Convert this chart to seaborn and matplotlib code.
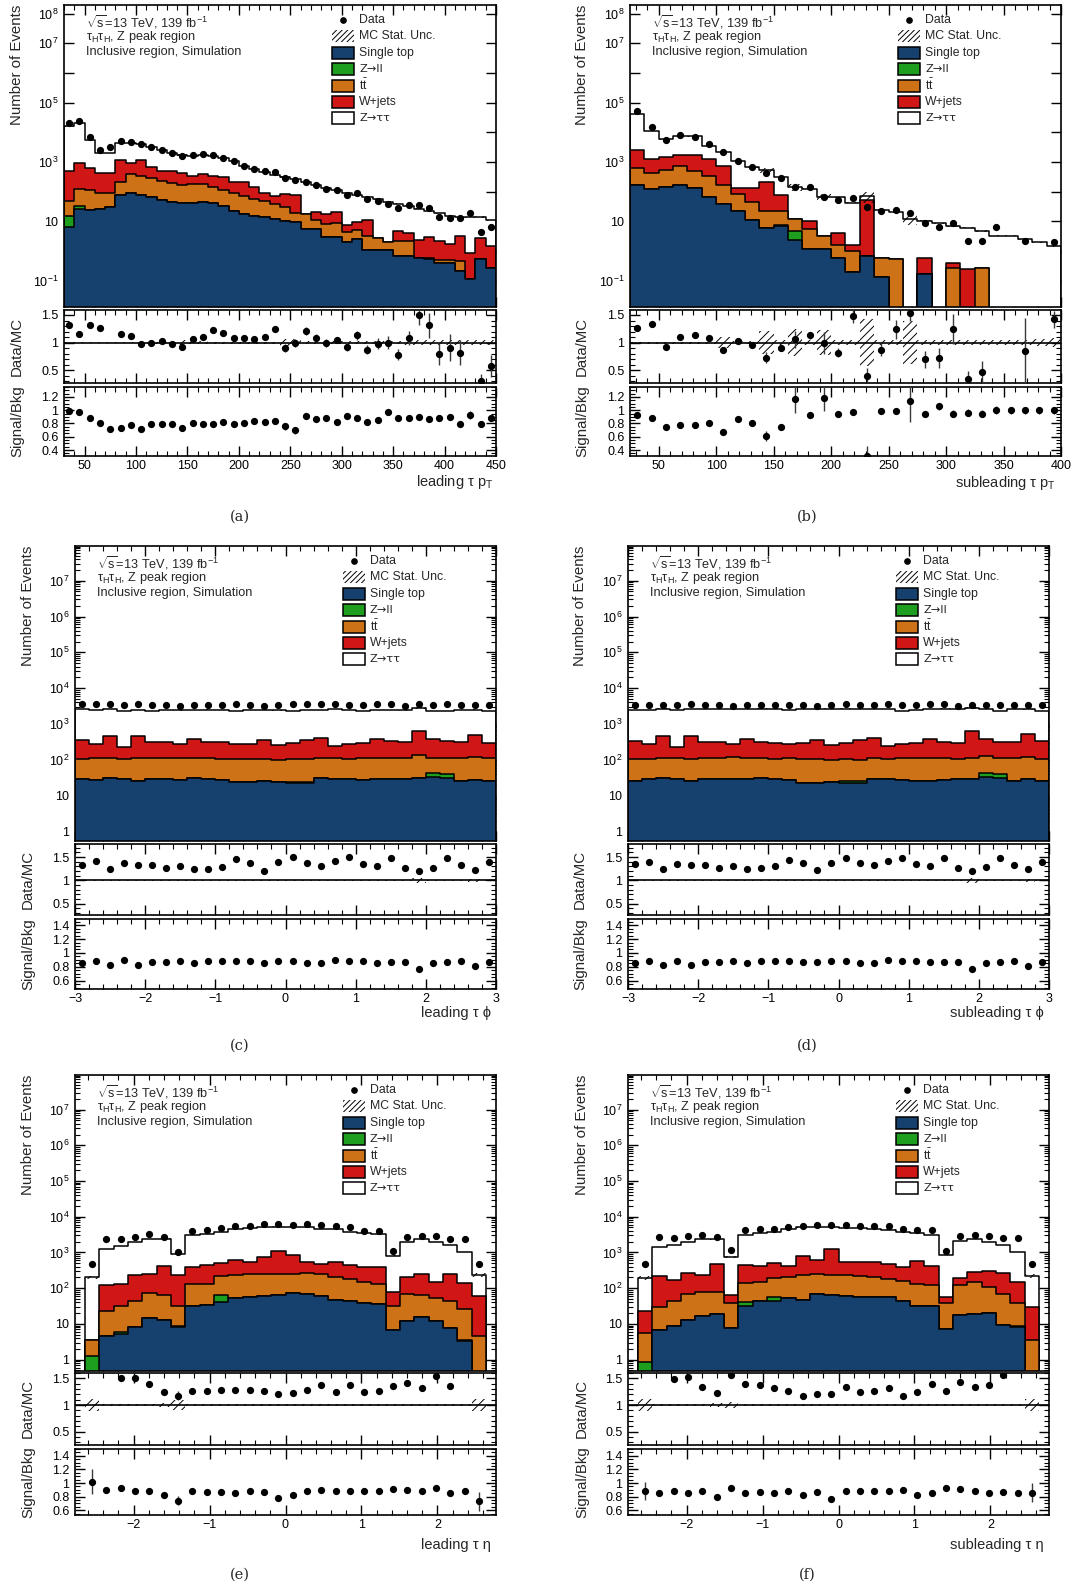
import numpy as np
import pandas as pd
import matplotlib
matplotlib.use("Agg")
import matplotlib.pyplot as plt
import seaborn as sns
from matplotlib.ticker import FuncFormatter, MultipleLocator, LogLocator, NullLocator, FixedLocator
from matplotlib.patches import Rectangle
from matplotlib.lines import Line2D

nan = np.nan

# ---------------- DATA (stack boundaries given as powers of ten) ----------------
# (a) leading tau pT
a_edges = np.linspace(30, 450, 43)
a_total = [4.20, 4.31, 3.73, 3.31, 3.31, 3.65, 3.65, 3.60, 3.50, 3.41, 3.31, 3.24, 3.20, 3.22, 3.20, 3.12, 3.03, 2.88, 2.77, 2.66,
           2.57, 2.50, 2.42, 2.31, 2.22, 2.14, 2.06, 1.97, 1.90, 1.82, 1.74, 1.66, 1.59, 1.51, 1.42, 1.35, 1.27, 1.19, 1.14, 1.13, 1.15, 1.03]
a_data = [4.31, 4.38, 3.84, 3.41, 3.52, 3.70, 3.69, 3.60, 3.49, 3.40, 3.29, 3.20, 3.22, 3.26, 3.24, 3.14, 3.02, 2.87, 2.76, 2.69,
          2.66, 2.46, 2.41, 2.33, 2.24, 2.09, 2.07, 1.88, 1.95, 1.74, 1.69, 1.59, 1.45, 1.54, 1.56, 1.44, 1.16, 1.11, 1.12, 1.28, 0.64, 0.80]
a_wjets = [2.69, 2.96, 2.79, 2.62, 2.62, 3.07, 2.97, 3.07, 2.83, 2.71, 2.71, 2.63, 2.54, 2.60, 2.54, 2.49, 2.34, 2.32, 2.15, 1.95,
           1.87, 1.92, 1.90, 1.25, 1.33, 1.25, 1.30, 0.89, 0.97, 1.05, 0.45, 0.32, 0.66, 0.62, 0.37, 0.46, 0.33, 0.24, 0.50, -0.06, 0.44, 0.16]
a_ttbar = [1.70, 2.09, 2.06, 1.96, 1.96, 2.32, 2.58, 2.54, 2.46, 2.37, 2.28, 2.22, 2.25, 2.25, 2.17, 2.07, 1.97, 1.87, 1.74, 1.68,
           1.59, 1.47, 1.27, 1.25, 1.05, 0.91, 0.93, 0.65, 0.71, 0.52, 0.45, 0.32, 0.33, 0.33, -0.24, -0.24, -0.31, -0.31, -0.33, -0.93, -0.27, -0.56]
a_single_top = [0.82, 1.42, 1.39, 1.42, 1.50, 1.89, 1.95, 1.89, 1.81, 1.73, 1.66, 1.63, 1.63, 1.66, 1.61, 1.51, 1.36, 1.25, 1.19, 1.14,
                1.08, 1.02, 0.97, 0.74, 0.74, 0.46, 0.46, 0.29, 0.40, 0.03, 0.03, 0.03, -0.16, -0.16, -0.24, -0.27, -0.39, -0.39, -0.67, -0.93, -0.27, -0.56]
a_zll = {0: 1.19, 1: 1.53}
a_ratio = [1.32, 1.16, 1.32, 1.27, nan, 1.16, 1.12, 0.97, 1.00, 1.03, 0.98, 0.92, 1.07, 1.11, 1.22, 1.18, 1.09, 1.08, 1.07, 1.11,
           1.24, 0.90, 0.99, 1.21, 1.09, 1.00, 1.05, 0.93, 1.13, 0.87, 0.98, 1.00, 0.78, 1.08, 1.50, 1.31, 0.80, 0.91, 0.82, nan, 0.31, 0.57]
a_ratio_err = [0.02, 0.02, 0.02, 0.02, 0.0, 0.02, 0.02, 0.03, 0.02, 0.02, 0.02, 0.04, 0.03, 0.03, 0.03, 0.03, 0.03, 0.03, 0.03, 0.03,
               0.04, 0.07, 0.07, 0.08, 0.06, 0.07, 0.06, 0.08, 0.08, 0.08, 0.10, 0.12, 0.10, 0.13, 0.18, 0.22, 0.20, 0.25, 0.22, 0.0, 0.12, 0.20]
a_mcunc = [0.01, 0.01, 0.01, 0.01, 0.01, 0.01, 0.01, 0.03, 0.02, 0.02, 0.02, 0.05, 0.02, 0.03, 0.02, 0.02, 0.02, 0.02, 0.02, 0.02,
           0.02, 0.07, 0.07, 0.03, 0.03, 0.03, 0.03, 0.03, 0.03, 0.03, 0.03, 0.03, 0.03, 0.04, 0.04, 0.04, 0.04, 0.04, 0.04, 0.05, 0.05, 0.05]
a_sb = [0.985, 0.97, 0.89, 0.805, 0.715, 0.725, 0.775, 0.715, 0.785, 0.79, 0.79, 0.725, 0.805, 0.785, 0.79, 0.815, 0.785, 0.80, 0.845, 0.815,
        0.845, 0.755, 0.695, 0.91, 0.865, 0.885, 0.825, 0.91, 0.885, 0.825, 0.85, 0.97, 0.88, 0.88, 0.90, 0.87, 0.885, 0.895, 0.785, 0.935, 0.795, 0.885]
a_sb_err = [0.015, 0.015, 0.015, 0.015, 0.015, 0.015, 0.015, 0.015, 0.015, 0.015, 0.015, 0.035, 0.015, 0.015, 0.015, 0.015, 0.015, 0.015, 0.015, 0.015,
            0.02, 0.05, 0.05, 0.03, 0.03, 0.025, 0.025, 0.025, 0.03, 0.025, 0.04, 0.035, 0.03, 0.03, 0.035, 0.04, 0.04, 0.04, 0.04, 0.06, 0.04, 0.05]

# (b) subleading tau pT
b_edges = np.linspace(25, 400, 31)
b_total = [4.61, 4.04, 3.76, 3.86, 3.86, 3.54, 3.34, 3.02, 2.82, 2.72, 2.49, 2.15, 2.10, 1.83, 1.81, 1.63, 1.85, 1.37, 1.31, 1.08,
           1.02, 0.93, 0.83, 0.79, 0.68, 0.52, 0.52, 0.40, 0.29, 0.18]
b_data = [4.71, 4.18, 3.75, 3.92, 3.84, 3.59, 3.32, 3.05, 2.83, 2.62, 2.45, 2.17, 2.17, 1.83, 1.73, 1.79, 1.50, 1.34, 1.38, 1.28,
          0.93, 0.80, 0.93, 0.35, 0.35, 0.80, nan, 0.35, nan, 0.32]
b_wjets = [3.42, 3.11, 3.16, 3.22, 3.22, 3.11, 2.86, 2.13, 2.13, 2.34, 1.90, 1.08, 1.00, 0.52, 0.61, 0.20, 1.72, -0.22, -0.27, nan,
           -0.22, nan, -0.41, -0.61, -0.58, nan, nan, nan, nan, nan]
b_ttbar = [2.79, 2.64, 2.74, 2.85, 2.71, 2.54, 2.21, 1.92, 1.64, 1.34, 1.34, 1.08, 0.74, 0.52, 0.21, 0.01, -0.16, -0.22, -0.27, nan,
           -0.78, nan, -0.58, nan, -0.58, nan, nan, nan, nan, nan]
b_single_top = [2.21, 2.09, 2.15, 2.21, 2.13, 1.83, 1.59, 1.34, 1.05, 0.76, 0.83, 0.38, 0.07, 0.07, -0.22, -0.72, -0.16, -0.89, nan, nan,
                -0.78, nan, nan, nan, nan, nan, nan, nan, nan, nan]
b_zll = {10: 0.88, 11: 0.68}
b_ratio = [1.27, 1.34, 0.93, 1.11, 1.13, 1.09, 0.86, 1.03, 0.95, 0.73, 0.91, 1.06, 1.13, 0.99, 0.82, 1.48, 0.40, 0.87, 1.24, 1.54,
           0.70, 0.72, 1.24, 0.34, 0.46, nan, nan, 0.85, nan, 1.42]
b_ratio_err = [0.02, 0.02, 0.03, 0.02, 0.02, 0.03, 0.04, 0.03, 0.04, 0.10, 0.06, 0.15, 0.07, 0.20, 0.08, 0.12, 0.15, 0.12, 0.17, 0.15,
               0.15, 0.18, 0.27, 0.15, 0.20, 0.0, 0.0, 0.60, 0.0, 0.15]
b_mcunc = [0.02, 0.02, 0.02, 0.02, 0.02, 0.02, 0.10, 0.03, 0.03, 0.21, 0.04, 0.25, 0.04, 0.22, 0.04, 0.04, 0.42, 0.05, 0.05, 0.39,
           0.05, 0.05, 0.05, 0.05, 0.05, 0.05, 0.05, 0.05, 0.06, 0.08]
b_sb = [0.935, 0.885, 0.745, 0.775, 0.77, 0.80, 0.675, 0.87, 0.80, 0.61, 0.745, 1.175, 0.925, 1.185, 0.945, 0.97, 0.31, 0.985, 0.985, 1.145,
        0.95, 1.06, 0.95, 0.965, 0.95, 1.0, 1.0, 1.0, 1.0, 1.0]
b_sb_err = [0.02, 0.02, 0.02, 0.02, 0.02, 0.02, 0.04, 0.02, 0.02, 0.07, 0.04, 0.22, 0.03, 0.20, 0.02, 0.02, 0.15, 0.02, 0.02, 0.33,
            0.03, 0.05, 0.05, 0.05, 0.05, 0.06, 0.05, 0.05, 0.05, 0.05]

# (c) leading tau phi
c_edges = np.linspace(-3, 3, 31)
c_total = [3.41, 3.39, 3.42, 3.37, 3.39, 3.37, 3.39, 3.38, 3.39, 3.40, 3.39, 3.37, 3.39, 3.39, 3.38, 3.37, 3.39, 3.39, 3.41, 3.39,
           3.37, 3.39, 3.39, 3.38, 3.44, 3.37, 3.37, 3.39, 3.40, 3.37]
c_data = [3.55, 3.55, 3.55, 3.52, 3.55, 3.52, 3.52, 3.50, 3.53, 3.53, 3.52, 3.55, 3.53, 3.50, 3.53, 3.56, 3.55, 3.55, 3.55, 3.53,
          3.52, 3.55, 3.55, 3.50, 3.55, 3.52, 3.55, 3.53, 3.52, 3.52]
c_wjets = [2.55, 2.44, 2.65, 2.37, 2.67, 2.51, 2.51, 2.44, 2.58, 2.51, 2.49, 2.44, 2.44, 2.55, 2.41, 2.46, 2.55, 2.60, 2.39, 2.43,
           2.48, 2.58, 2.53, 2.49, 2.81, 2.57, 2.53, 2.51, 2.69, 2.48]
c_ttbar = [2.03, 2.04, 2.05, 2.03, 2.06, 2.05, 2.04, 2.05, 2.06, 2.04, 2.03, 2.03, 2.01, 2.03, 2.00, 2.03, 2.03, 2.06, 2.04, 2.03,
           2.05, 2.06, 2.04, 2.04, 2.12, 2.04, 2.05, 2.05, 2.09, 2.05]
c_single_top = [1.46, 1.44, 1.48, 1.47, 1.42, 1.47, 1.46, 1.44, 1.48, 1.46, 1.44, 1.37, 1.39, 1.41, 1.39, 1.34, 1.34, 1.48, 1.47, 1.46,
                1.43, 1.45, 1.46, 1.47, 1.48, 1.51, 1.48, 1.42, 1.44, 1.42]
c_zll = {15: 1.39, 16: 1.39, 25: 1.64, 26: 1.60}
c_ratio = [1.34, 1.41, 1.24, 1.37, 1.34, 1.34, 1.26, 1.31, 1.25, 1.25, 1.29, 1.45, 1.37, 1.21, 1.39, 1.50, 1.37, 1.31, 1.41, 1.50,
           1.36, 1.31, 1.48, 1.26, 1.21, 1.27, 1.48, 1.33, 1.23, 1.40]
c_ratio_err = [0.025, 0.025, 0.03, 0.025, 0.025, 0.025, 0.025, 0.025, 0.025, 0.025, 0.025, 0.025, 0.025, 0.025, 0.025, 0.025, 0.025, 0.025, 0.025, 0.025,
               0.025, 0.025, 0.025, 0.025, 0.05, 0.025, 0.025, 0.025, 0.035, 0.025]
c_mcunc = [0.01, 0.01, 0.01, 0.01, 0.01, 0.01, 0.01, 0.01, 0.01, 0.01, 0.01, 0.01, 0.01, 0.01, 0.01, 0.01, 0.01, 0.01, 0.01, 0.01,
           0.01, 0.01, 0.01, 0.01, 0.06, 0.01, 0.01, 0.01, 0.03, 0.01]
c_sb = [0.86, 0.885, 0.83, 0.90, 0.82, 0.87, 0.87, 0.88, 0.85, 0.88, 0.88, 0.88, 0.88, 0.86, 0.89, 0.88, 0.86, 0.85, 0.90, 0.88,
        0.88, 0.86, 0.87, 0.875, 0.77, 0.85, 0.87, 0.88, 0.81, 0.875]
c_sb_err = [0.015, 0.015, 0.02, 0.015, 0.015, 0.015, 0.015, 0.015, 0.015, 0.015, 0.015, 0.015, 0.015, 0.015, 0.015, 0.015, 0.015, 0.015, 0.015, 0.015,
            0.015, 0.015, 0.015, 0.015, 0.03, 0.015, 0.015, 0.015, 0.025, 0.015]

# (d) subleading tau phi
d_edges = np.linspace(-3, 3, 31)
d_total = [3.39, 3.39, 3.43, 3.39, 3.41, 3.41, 3.41, 3.41, 3.41, 3.43, 3.41, 3.39, 3.41, 3.41, 3.43, 3.43, 3.41, 3.41, 3.41, 3.37,
           3.39, 3.41, 3.43, 3.41, 3.44, 3.41, 3.37, 3.41, 3.41, 3.37]
d_data = [3.54, 3.54, 3.54, 3.52, 3.55, 3.52, 3.52, 3.50, 3.53, 3.53, 3.52, 3.54, 3.53, 3.50, 3.53, 3.55, 3.54, 3.54, 3.55, 3.52,
          3.52, 3.55, 3.56, 3.50, 3.54, 3.52, 3.54, 3.54, 3.52, 3.52]
d_wjets = [2.53, 2.44, 2.65, 2.37, 2.67, 2.51, 2.51, 2.44, 2.58, 2.51, 2.48, 2.44, 2.46, 2.55, 2.41, 2.46, 2.55, 2.62, 2.39, 2.43,
           2.46, 2.58, 2.51, 2.48, 2.81, 2.57, 2.51, 2.49, 2.71, 2.53]
d_ttbar = [2.02, 2.02, 2.05, 2.04, 2.02, 2.05, 2.06, 2.07, 2.06, 2.04, 2.03, 2.04, 2.03, 2.01, 2.00, 2.02, 2.00, 2.04, 2.03, 2.05,
           2.06, 2.06, 2.04, 2.03, 2.04, 2.11, 2.05, 2.04, 2.07, 2.03]
d_single_top = [1.42, 1.46, 1.48, 1.47, 1.42, 1.47, 1.46, 1.47, 1.47, 1.48, 1.46, 1.43, 1.36, 1.36, 1.38, 1.35, 1.35, 1.47, 1.45, 1.44,
                1.41, 1.42, 1.44, 1.46, 1.47, 1.53, 1.49, 1.42, 1.45, 1.42]
d_zll = {15: 1.41, 16: 1.41, 25: 1.64, 26: 1.60}
d_ratio = [1.35, 1.40, 1.24, 1.36, 1.34, 1.33, 1.27, 1.31, 1.25, 1.26, 1.30, 1.44, 1.37, 1.22, 1.38, 1.49, 1.37, 1.32, 1.41, 1.49,
           1.36, 1.31, 1.47, 1.27, 1.21, 1.28, 1.47, 1.33, 1.24, 1.40]
d_ratio_err = [0.025, 0.025, 0.03, 0.025, 0.025, 0.025, 0.025, 0.025, 0.025, 0.025, 0.025, 0.025, 0.025, 0.025, 0.025, 0.025, 0.025, 0.025, 0.025, 0.025,
               0.025, 0.025, 0.025, 0.025, 0.05, 0.025, 0.025, 0.025, 0.035, 0.025]
d_mcunc = [0.01, 0.01, 0.01, 0.01, 0.01, 0.01, 0.01, 0.01, 0.01, 0.01, 0.01, 0.01, 0.01, 0.01, 0.01, 0.01, 0.01, 0.01, 0.01, 0.01,
           0.01, 0.01, 0.01, 0.01, 0.06, 0.01, 0.01, 0.01, 0.03, 0.01]
d_sb = [0.86, 0.88, 0.83, 0.89, 0.82, 0.87, 0.87, 0.88, 0.86, 0.88, 0.88, 0.88, 0.87, 0.87, 0.89, 0.88, 0.86, 0.85, 0.90, 0.88,
        0.88, 0.87, 0.87, 0.87, 0.77, 0.85, 0.87, 0.88, 0.81, 0.87]
d_sb_err = [0.015, 0.015, 0.02, 0.015, 0.015, 0.015, 0.015, 0.015, 0.015, 0.015, 0.015, 0.015, 0.015, 0.015, 0.015, 0.015, 0.015, 0.015, 0.015, 0.015,
            0.015, 0.015, 0.015, 0.015, 0.03, 0.015, 0.015, 0.015, 0.025, 0.015]

# (e) leading tau eta
e_edges = np.linspace(-2.64, 2.64, 29)
e_total = [2.30, 3.09, 3.18, 3.29, 3.38, 3.38, 2.95, 3.49, 3.52, 3.58, 3.65, 3.68, 3.70, 3.72, 3.71, 3.70, 3.66, 3.66, 3.57, 3.54,
           3.51, 2.91, 3.30, 3.37, 3.29, 3.21, 3.02, 2.37]
e_data = [2.68, 3.38, 3.37, 3.44, 3.51, 3.44, 3.02, 3.60, 3.63, 3.68, 3.73, 3.75, 3.79, 3.79, 3.77, 3.79, 3.77, 3.73, 3.71, 3.61,
          3.61, 3.05, 3.43, 3.47, 3.45, 3.37, 3.38, 2.68]
e_wjets = [0.55, 2.09, 2.13, 2.36, 2.40, 2.61, 2.37, 2.58, 2.65, 2.70, 2.79, 2.74, 2.86, 3.05, 2.93, 2.74, 2.67, 2.73, 2.65, 2.60,
           2.58, 1.89, 2.32, 2.40, 2.18, 2.40, 2.14, 1.79]
e_ttbar = [0.55, 1.35, 1.51, 1.65, 1.86, 1.81, 1.51, 2.11, 2.13, 2.34, 2.37, 2.39, 2.41, 2.40, 2.39, 2.42, 2.40, 2.32, 2.26, 2.18,
           2.11, 1.49, 1.83, 1.81, 1.72, 1.63, 1.42, 0.65]
e_single_top = [nan, 0.66, 0.71, 0.90, 1.16, 1.11, 0.90, 1.51, 1.53, 1.61, 1.72, 1.75, 1.78, 1.81, 1.86, 1.83, 1.79, 1.67, 1.63, 1.58,
                1.55, 0.83, 1.08, 1.18, 1.09, 0.88, 0.51, nan]
e_zll = {0: 0.10, 2: 0.77, 6: 0.95, 9: 1.81, 26: 0.55}
e_ratio = [nan, nan, 1.50, 1.50, 1.39, 1.25, 1.175, 1.26, 1.27, 1.29, 1.29, 1.29, 1.27, 1.20, 1.23, 1.29, 1.37, 1.24, 1.38, 1.24,
           1.26, 1.36, 1.41, 1.31, 1.55, 1.36, nan, nan]
e_ratio_err = [0.0, 0.0, 0.04, 0.04, 0.03, 0.05, 0.08, 0.02, 0.02, 0.02, 0.02, 0.02, 0.02, 0.03, 0.02, 0.02, 0.02, 0.02, 0.02, 0.02,
               0.02, 0.05, 0.04, 0.03, 0.04, 0.04, 0.0, 0.0]
e_mcunc = [0.12, 0.01, 0.01, 0.01, 0.01, 0.03, 0.10, 0.01, 0.01, 0.01, 0.01, 0.01, 0.01, 0.02, 0.01, 0.01, 0.01, 0.01, 0.01, 0.01,
           0.01, 0.02, 0.01, 0.01, 0.01, 0.01, 0.01, 0.12]
e_sb = [1.02, 0.90, 0.92, 0.88, 0.89, 0.82, 0.74, 0.88, 0.87, 0.87, 0.86, 0.88, 0.87, 0.78, 0.83, 0.89, 0.90, 0.88, 0.88, 0.88,
        0.89, 0.91, 0.90, 0.89, 0.92, 0.85, 0.88, 0.73]
e_sb_err = [0.18, 0.04, 0.03, 0.02, 0.02, 0.04, 0.07, 0.02, 0.02, 0.02, 0.02, 0.02, 0.02, 0.03, 0.02, 0.02, 0.02, 0.02, 0.02, 0.02,
            0.02, 0.04, 0.02, 0.02, 0.03, 0.03, 0.04, 0.14]

# (f) subleading tau eta
f_edges = np.linspace(-2.64, 2.64, 29)
f_total = [2.28, 3.15, 3.21, 3.29, 3.37, 3.37, 2.88, 3.49, 3.54, 3.58, 3.66, 3.70, 3.72, 3.71, 3.68, 3.68, 3.66, 3.64, 3.58, 3.54,
           3.49, 2.93, 3.32, 3.38, 3.30, 3.21, 3.02, 2.35]
f_data = [2.67, 3.42, 3.40, 3.47, 3.48, 3.44, 3.08, 3.64, 3.65, 3.67, 3.71, 3.74, 3.77, 3.78, 3.76, 3.75, 3.75, 3.74, 3.66, 3.64,
          3.63, 3.04, 3.47, 3.50, 3.45, 3.40, 3.40, 2.68]
f_wjets = [1.35, 2.34, 2.23, 2.42, 2.37, 2.67, 1.81, 2.65, 2.63, 2.70, 2.63, 2.90, 2.80, 3.09, 2.72, 2.73, 2.73, 2.69, 2.60, 2.76,
           2.63, 1.76, 2.28, 2.45, 2.49, 2.42, 2.18, 1.46]
f_ttbar = [0.74, 1.46, 1.64, 1.83, 1.88, 1.89, 1.58, 2.15, 2.18, 2.28, 2.32, 2.37, 2.39, 2.37, 2.37, 2.35, 2.32, 2.26, 2.20, 2.11,
           2.09, 1.58, 2.09, 2.17, 2.03, 1.83, 1.58, 0.55]
f_single_top = [nan, 0.83, 0.93, 1.11, 1.21, 1.27, 0.88, 1.49, 1.63, 1.65, 1.72, 1.67, 1.83, 1.81, 1.79, 1.74, 1.75, 1.74, 1.64, 1.51,
                1.49, 0.85, 1.25, 1.27, 1.30, 0.97, 0.90, nan]
f_zll = {0: -0.08, 7: 1.60, 9: 1.76, 26: 0.95}
f_ratio = [nan, nan, 1.48, 1.53, 1.33, 1.22, 1.56, 1.39, 1.37, 1.31, 1.26, 1.16, 1.21, 1.21, 1.33, 1.24, 1.27, 1.31, 1.17, 1.24,
           1.39, 1.26, 1.44, 1.34, 1.38, 1.56, nan, nan]
f_ratio_err = [0.0, 0.0, 0.04, 0.04, 0.03, 0.05, 0.05, 0.02, 0.02, 0.02, 0.02, 0.02, 0.02, 0.03, 0.02, 0.02, 0.02, 0.02, 0.02, 0.02,
               0.02, 0.05, 0.02, 0.02, 0.03, 0.03, 0.0, 0.0]
f_mcunc = [0.12, 0.01, 0.01, 0.01, 0.01, 0.03, 0.05, 0.01, 0.01, 0.01, 0.01, 0.01, 0.01, 0.02, 0.01, 0.01, 0.01, 0.01, 0.01, 0.01,
           0.01, 0.01, 0.01, 0.01, 0.01, 0.01, 0.01, 0.12]
f_sb = [0.88, 0.85, 0.89, 0.86, 0.89, 0.80, 0.92, 0.85, 0.87, 0.86, 0.89, 0.83, 0.87, 0.77, 0.88, 0.88, 0.88, 0.89, 0.90, 0.83,
        0.86, 0.93, 0.91, 0.88, 0.85, 0.87, 0.86, 0.86]
f_sb_err = [0.13, 0.03, 0.03, 0.02, 0.02, 0.04, 0.04, 0.02, 0.02, 0.02, 0.02, 0.02, 0.02, 0.03, 0.02, 0.02, 0.02, 0.02, 0.02, 0.02,
            0.02, 0.04, 0.02, 0.02, 0.02, 0.03, 0.04, 0.14]

x_titles = {'a': r'leading τ $\mathrm{p_{T}}$', 'b': r'subleading τ $\mathrm{p_{T}}$',
            'c': 'leading τ ϕ', 'd': 'subleading τ ϕ', 'e': 'leading τ η', 'f': 'subleading τ η'}
legend_labels = ['Data', 'MC Stat. Unc.', 'Single top', 'Z→ll', r'$\mathrm{t\bar{t}}$', 'W+jets', 'Z→ττ']
info_lines = [r'$\sqrt{\mathrm{s}}$=13 TeV, 139 fb$^{-1}$', r'$\mathrm{\tau_{H}\tau_{H}}$, Z peak region',
              'Inclusive region, Simulation']

# ---------------- STYLE ----------------
sns.set_style("ticks")
plt.rcParams.update({
    'axes.edgecolor': 'black', 'axes.linewidth': 1.2,
    'xtick.color': 'black', 'ytick.color': 'black',
    'hatch.linewidth': 0.7,
    'mathtext.fontset': 'custom', 'mathtext.rm': 'Liberation Sans',
    'mathtext.it': 'Liberation Sans:italic', 'mathtext.bf': 'Liberation Sans:bold',
    'mathtext.sf': 'Liberation Sans', 'mathtext.default': 'regular',
})
plt.rcParams['font.family'] = ['Liberation Sans', 'DejaVu Sans']

BLUE, GREEN, ORANGE, RED = '#16406e', '#1e9e1e', '#ce7217', '#d11616'
W, H = 1078, 1589

layout = {
    'a': dict(x0=64, x1=496, main=(5, 307), ratio=(310, 383), sb=(387, 456), ylx=17, xlab=(493, 482), cap=(240, 517)),
    'b': dict(x0=630, x1=1061, main=(5, 307), ratio=(310, 383), sb=(387, 456), ylx=582, xlab=(1056, 483), cap=(807, 517)),
    'c': dict(x0=75, x1=496, main=(546, 841), ratio=(844, 915), sb=(919, 989), ylx=28, xlab=(491, 1013), cap=(240, 1046)),
    'd': dict(x0=628, x1=1049, main=(546, 841), ratio=(844, 915), sb=(919, 989), ylx=580, xlab=(1044, 1013), cap=(807, 1046)),
    'e': dict(x0=75, x1=496, main=(1075, 1371), ratio=(1373, 1445), sb=(1449, 1515), ylx=28, xlab=(491, 1545), cap=(240, 1575)),
    'f': dict(x0=628, x1=1049, main=(1075, 1371), ratio=(1373, 1445), sb=(1449, 1515), ylx=582, xlab=(1044, 1545), cap=(807, 1575)),
}
pt_axes = dict(xlim=None, xmaj=50, xmin=10, shown={-1, 1, 3, 5, 7, 8}, yminor=False,
               rlim=(0.27, 1.59), slim=(0.31, 1.35), smaj=[0.4, 0.6, 0.8, 1.0, 1.2])
phi_axes = dict(xlim=(-3, 3), xmaj=1, xmin=0.2, shown=set(range(0, 8)), yminor=True, ylim=(0.54, 9.3e7),
                rlim=(0.26, 1.78), slim=(0.48, 1.49), smaj=[0.6, 0.8, 1.0, 1.2, 1.4])
eta_axes = dict(xlim=(-2.77, 2.77), xmaj=1, xmin=0.2, shown=set(range(0, 8)), yminor=True, ylim=(0.48, 9.3e7),
                rlim=(0.25, 1.6), slim=(0.53, 1.5), smaj=[0.6, 0.8, 1.0, 1.2, 1.4])
axcfg = {
    'a': dict(pt_axes, xlim=(30, 450), ylim=(0.013, 1.95e8)),
    'b': dict(pt_axes, xlim=(25, 400), ylim=(0.013, 1.95e8)),
    'c': phi_axes, 'd': phi_axes, 'e': eta_axes, 'f': eta_axes,
}

G = globals()
panels = {}
for p in 'abcdef':
    panels[p] = {k: G[p + '_' + k] for k in ['edges', 'total', 'data', 'wjets', 'ttbar', 'single_top', 'zll',
                                             'ratio', 'ratio_err', 'mcunc', 'sb', 'sb_err']}


def pw(arr):
    return np.nan_to_num(10.0 ** np.asarray(arr, dtype=float), nan=0.0)


def g_fmt(v, pos):
    return ('%g' % round(v, 6)).replace('-', '\u2212')


def log_fmt(shown):
    def f(v, pos):
        if v <= 0:
            return ''
        e = int(np.round(np.log10(v)))
        if not np.isclose(v, 10.0 ** e) or e not in shown:
            return ''
        if e == 0:
            return '1'
        if e == 1:
            return '10'
        return r'$10^{%d}$' % e
    return FuncFormatter(f)


fig = plt.figure(figsize=(W / 100, H / 100), dpi=100)


def fx(x):
    return x / W


def fy(y):
    return 1 - y / H


for p in 'abcdef':
    L, C, P = layout[p], axcfg[p], panels[p]

    def rect(y0, y1):
        return [fx(L['x0']), fy(y1), (L['x1'] - L['x0']) / W, (y1 - y0) / H]

    axm = fig.add_axes(rect(*L['main']))
    axr = fig.add_axes(rect(*L['ratio']))
    axs = fig.add_axes(rect(*L['sb']))

    edges = np.asarray(P['edges'], float)
    centers = 0.5 * (edges[:-1] + edges[1:])
    widths = np.diff(edges)
    tot = pw(P['total'])
    wj = pw(P['wjets'])
    tt = pw(P['ttbar'])
    st = pw(P['single_top'])
    zl = st.copy()
    for k, v in P['zll'].items():
        zl[k] = 10.0 ** v

    # stacked histogram: draw cumulative levels from top to bottom
    for vals, col in [(tot, 'white'), (wj, RED), (tt, ORANGE), (zl, GREEN), (st, BLUE)]:
        df = pd.DataFrame({'x': centers, 'w': vals})
        sns.histplot(data=df, x='x', weights='w', bins=[float(e) for e in edges], element='step', fill=True,
                     color=col, alpha=1.0, edgecolor='black', linewidth=1.1, ax=axm, legend=False)
    u = np.asarray(P['mcunc'], float)
    axm.bar(centers, 2 * u * tot, bottom=tot * (1 - u), width=widths, facecolor='none',
            edgecolor='black', linewidth=0, hatch='////', zorder=3)
    axm.plot(centers, 10.0 ** np.asarray(P['data'], float), 'o', color='black', ms=4.2, zorder=5)
    axm.set_yscale('log')
    axm.set_ylim(*C['ylim'])
    axm.yaxis.set_major_locator(LogLocator(base=10, numticks=40))
    axm.yaxis.set_major_formatter(log_fmt(C['shown']))
    if C['yminor']:
        axm.yaxis.set_minor_locator(LogLocator(base=10, subs=np.arange(2, 10), numticks=200))
    else:
        axm.yaxis.set_minor_locator(NullLocator())

    # Data / MC
    axr.bar(centers, 2 * u, bottom=1 - u, width=widths, facecolor='none', edgecolor='black',
            linewidth=0, hatch='////', zorder=2)
    axr.axhline(1.0, color='black', lw=1.2, zorder=3)
    axr.errorbar(centers, np.asarray(P['ratio'], float), yerr=np.asarray(P['ratio_err'], float), fmt='o',
                 color='black', ecolor='#3a3a3a', ms=4.2, elinewidth=1.0, capsize=0, zorder=4)
    axr.set_ylim(*C['rlim'])
    axr.yaxis.set_major_locator(FixedLocator([0.5, 1.0, 1.5]))
    axr.yaxis.set_minor_locator(MultipleLocator(0.1))
    axr.yaxis.set_major_formatter(FuncFormatter(g_fmt))

    # Signal / Bkg
    axs.errorbar(centers, np.asarray(P['sb'], float), yerr=np.asarray(P['sb_err'], float), fmt='o',
                 color='black', ecolor='#3a3a3a', ms=4.2, elinewidth=1.0, capsize=0, zorder=4)
    axs.set_ylim(*C['slim'])
    axs.yaxis.set_major_locator(FixedLocator(C['smaj']))
    axs.yaxis.set_minor_locator(MultipleLocator(0.05))
    axs.yaxis.set_major_formatter(FuncFormatter(g_fmt))

    for ax in (axm, axr, axs):
        ax.set_xlim(*C['xlim'])
        ax.xaxis.set_major_locator(MultipleLocator(C['xmaj']))
        ax.xaxis.set_minor_locator(MultipleLocator(C['xmin']))
        ax.xaxis.set_major_formatter(FuncFormatter(g_fmt))
        ax.set_xlabel('')
        ax.set_ylabel('')
        ax.tick_params(which='both', direction='in', top=True, right=True, labelsize=9, pad=4)
        ax.tick_params(which='major', length=7, width=1.0)
        ax.tick_params(which='minor', length=3.5, width=0.8)
        for s in ax.spines.values():
            s.set_linewidth(1.2)
            s.set_color('black')
    axm.tick_params(labelbottom=False)
    axr.tick_params(labelbottom=False)
    axs.tick_params(axis='x', pad=3)

    # axis titles
    fig.text(fx(L['ylx']), fy(L['main'][0]), 'Number of Events', rotation=90, ha='center', va='top', fontsize=10.8)
    fig.text(fx(L['ylx']), fy(sum(L['ratio']) / 2), 'Data/MC', rotation=90, ha='center', va='center', fontsize=10.8)
    fig.text(fx(L['ylx']), fy(sum(L['sb']) / 2), 'Signal/Bkg', rotation=90, ha='center', va='center', fontsize=10.8)
    fig.text(fx(L['xlab'][0]), fy(L['xlab'][1]), x_titles[p], ha='right', va='center', fontsize=10.5)
    fig.text(fx(L['cap'][0]), fy(L['cap'][1]), '(%s)' % p, ha='center', va='center', fontsize=10.5,
             family=['DejaVu Serif'])

    # info text
    top = L['main'][0]
    for i, line in enumerate(info_lines):
        fig.text(fx(L['x0'] + 22), fy(top + 17 + 15 * i), line, ha='left', va='center', fontsize=9.2)

    # legend (drawn in figure pixels)
    lx = L['x0'] + 268
    for i, lab in enumerate(legend_labels):
        yc = top + 15 + 16.4 * i
        if i == 0:
            fig.add_artist(Line2D([fx(lx + 11)], [fy(yc)], marker='o', color='black', ms=3.8,
                                  linestyle='none', transform=fig.transFigure))
        elif i == 1:
            fig.add_artist(Rectangle((fx(lx), fy(yc + 6)), 22 / W, 12 / H, transform=fig.transFigure,
                                     facecolor='none', edgecolor='black', linewidth=0, hatch='//////'))
        else:
            col = [BLUE, GREEN, ORANGE, RED, 'white'][i - 2]
            fig.add_artist(Rectangle((fx(lx), fy(yc + 6)), 22 / W, 12 / H, transform=fig.transFigure,
                                     facecolor=col, edgecolor='black', linewidth=1.1))
        fam = ['DejaVu Sans'] if '→' in lab else ['Liberation Sans', 'DejaVu Sans']
        fs = 8.2 if '→' in lab else 8.8
        fig.text(fx(lx + 27), fy(yc), lab, ha='left', va='center', fontsize=fs, family=fam)

fig.savefig('out.png', dpi=100)
